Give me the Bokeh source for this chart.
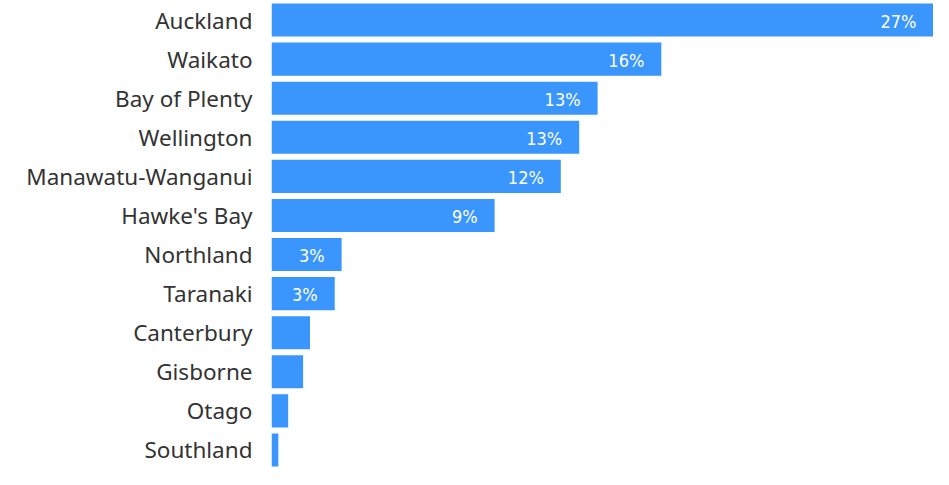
from bokeh.plotting import figure
from bokeh.models import FactorRange, Range1d, ColumnDataSource
from bokeh.core.properties import value
from bokeh.embed import file_html
from bokeh.resources import INLINE

regions = ["Auckland", "Waikato", "Bay of Plenty", "Wellington", "Manawatu-Wanganui",
           "Hawke's Bay", "Northland", "Taranaki", "Canterbury", "Gisborne", "Otago", "Southland"]
shares = [27.0, 15.9, 13.3, 12.55, 11.8, 9.1, 2.86, 2.58, 1.57, 1.29, 0.68, 0.28]

label_min = 2.5
lab_regions = [r for r, v in zip(regions, shares) if v >= label_min]
lab_values = [v for v in shares if v >= label_min]
lab_text = [f"{round(v)}%" for v in lab_values]

p = figure(width=933, height=469, output_backend="svg", toolbar_location=None,
           y_range=FactorRange(factors=regions[::-1], range_padding=0),
           x_range=Range1d(0, 27.0),
           min_border_left=271, min_border_right=0, min_border_top=0, min_border_bottom=0)

src = ColumnDataSource(dict(region=regions, share=shares))
p.hbar(y="region", right="share", left=0, height=0.845, source=src,
       fill_color="#3a96fd", line_color=None)

lsrc = ColumnDataSource(dict(region=lab_regions, share=lab_values, text=lab_text))
p.text(x="share", y="region", text="text", source=lsrc, x_offset=-17, y_offset=1,
       text_align="right", text_baseline="middle", text_color="white",
       text_font=value("DejaVu Sans Condensed"), text_font_size="18px")

p.xaxis.visible = False
p.xgrid.visible = False
p.ygrid.visible = False
p.outline_line_color = None
ya = p.yaxis[0]
ya.axis_line_color = None
ya.major_tick_line_color = None
ya.minor_tick_line_color = None
ya.major_label_text_font = "Noto Sans"
ya.major_label_text_font_size = "22.5px"
ya.major_label_text_color = "#333333"
ya.major_label_standoff = 13

open("out.html", "w").write(file_html(p, INLINE))
